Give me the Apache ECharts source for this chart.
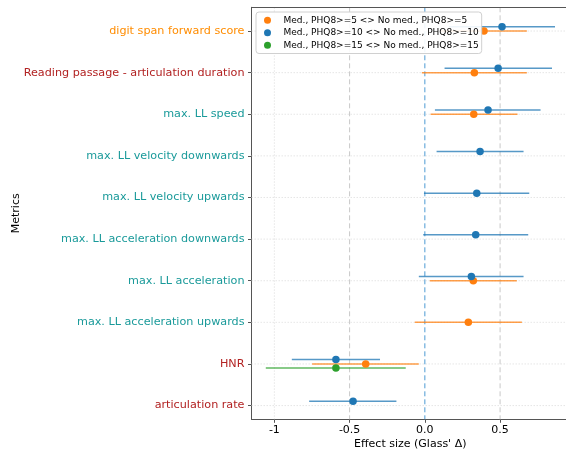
<!DOCTYPE html>
<html><head><meta charset="utf-8">
<script src="https://cdn.jsdelivr.net/npm/echarts@6/dist/echarts.min.js"></script>
<style>html,body{margin:0;padding:0;background:#fff}#c{width:566px;height:452px}</style>
</head><body><div id="c"></div>
<script>
// ---- data ----
const metrics = [
  'digit span forward score',
  'Reading passage - articulation duration',
  'max. LL speed',
  'max. LL velocity downwards',
  'max. LL velocity upwards',
  'max. LL acceleration downwards',
  'max. LL acceleration',
  'max. LL acceleration upwards',
  'HNR',
  'articulation rate'
];
const metricGroup = ['cog','speech','ll','ll','ll','ll','ll','ll','speech','speech'];
const groupNames = [
  'Med., PHQ8>=5 <> No med., PHQ8>=5',
  'Med., PHQ8>=10 <> No med., PHQ8>=10',
  'Med., PHQ8>=15 <> No med., PHQ8>=15'
];
const xTickValues = [-1, -0.5, 0, 0.5];
const xTickLabels = ['-1', '-0.5', '0.0', '0.5'];
const refLinesGrey = [-0.5, 0.5];
const refLineZero = [0];

// PHQ8>=5
const phq5Metric = [0, 1, 2, 6, 7, 8];
const phq5Est    = [0.393, 0.329, 0.325, 0.322, 0.289, -0.393];
const phq5Lo     = [0.108, -0.020, 0.038, 0.033, -0.067, -0.749];
const phq5Hi     = [0.678, 0.678, 0.616, 0.611, 0.645, -0.040];
// PHQ8>=10
const phq10Metric = [0, 1, 2, 3, 4, 5, 6, 8, 9];
const phq10Est    = [0.513, 0.487, 0.420, 0.367, 0.345, 0.338, 0.309, -0.591, -0.477];
const phq10Lo     = [0.160, 0.131, 0.067, 0.078, -0.006, -0.011, -0.040, -0.884, -0.769];
const phq10Hi     = [0.865, 0.845, 0.769, 0.656, 0.694, 0.687, 0.656, -0.298, -0.189];
// PHQ8>=15
const phq15Metric = [8];
const phq15Est    = [-0.591];
const phq15Lo     = [-1.057];
const phq15Hi     = [-0.127];

// ---- styling ----
const seriesColors = ['#ff7f0e', '#1f77b4', '#2ca02c'];
const offsets = [0, -0.104, 0.1];
const labelColors = {cog: '#ff8c00', speech: '#b22222', ll: '#1a9a9a'};
const FONT = 'DejaVu Sans';
const Y_MIN = -0.57, Y_MAX = 9.33;

const groupsData = [
  [phq5Metric, phq5Est, phq5Lo, phq5Hi],
  [phq10Metric, phq10Est, phq10Lo, phq10Hi],
  [phq15Metric, phq15Est, phq15Lo, phq15Hi]
];

function vLineSeries(values, style, z) {
  return {
    type: 'custom', silent: true, z: z, animation: false,
    encode: {x: 0, y: 1},
    data: values.map(v => [v, Y_MIN]),
    renderItem: function (params, api) {
      const a = api.coord([api.value(0), Y_MIN]);
      const b = api.coord([api.value(0), Y_MAX]);
      return {type: 'line', shape: {x1: a[0], y1: a[1], x2: b[0], y2: b[1]}, style: style};
    }
  };
}
function hLineSeries(values, style, z) {
  return {
    type: 'custom', silent: true, z: z, animation: false,
    encode: {x: 0, y: 1},
    data: values.map(v => [0, v]),
    renderItem: function (params, api) {
      const a = api.coord([-1.152, api.value(1)]);
      const b = api.coord([0.958, api.value(1)]);
      return {type: 'line', shape: {x1: a[0], y1: a[1], x2: b[0], y2: b[1]}, style: style};
    }
  };
}

const gridDot = {stroke: '#e0e0e0', lineDash: [1.5, 1.5], lineWidth: 0.8};
const series = [
  hLineSeries(metrics.map((m, i) => i), gridDot, 1),
  vLineSeries(xTickValues.filter(v => refLineZero.indexOf(v) < 0 && refLinesGrey.indexOf(v) < 0), gridDot, 1),
  vLineSeries(refLinesGrey, {stroke: '#c8c8c8', lineDash: [5, 3], lineWidth: 1}, 2),
  vLineSeries(refLineZero, {stroke: '#4d9bd3', lineDash: [5, 3], lineWidth: 1}, 2)
];

groupsData.forEach((g, gi) => {
  const [idx, est, lo, hi] = g;
  const data = idx.map((m, k) => [est[k], m + offsets[gi], lo[k], hi[k]]);
  series.push({
    name: groupNames[gi] + ' CI',
    type: 'custom', z: 10 + gi,
    renderItem: function (params, api) {
      const y = api.value(1);
      const a = api.coord([api.value(2), y]);
      const b = api.coord([api.value(3), y]);
      return {
        type: 'line',
        shape: {x1: a[0], y1: a[1], x2: b[0], y2: b[1]},
        style: {stroke: seriesColors[gi], lineWidth: 1.5, opacity: 0.75}
      };
    },
    encode: {x: [0, 2, 3], y: 1},
    data: data,
    animation: false
  });
  series.push({
    name: groupNames[gi],
    type: 'scatter', z: 20 + gi,
    symbol: 'circle', symbolSize: 7.5,
    itemStyle: {color: seriesColors[gi], opacity: 1},
    data: data.map(d => [d[0], d[1]]),
    animation: false
  });
});

const chart = echarts.init(document.getElementById('c'), null, {renderer: 'canvas'});
chart.setOption({
  backgroundColor: '#fff',
  animation: false,
  grid: {left: 251.5, right: -3, top: 7.3, bottom: 32.7, containLabel: false, outerBoundsMode: 'none', show: false},
  legend: {
    z: 50,
    data: groupNames.map(n => ({name: n, icon: 'circle'})),
    orient: 'vertical', left: 256, top: 12,
    itemWidth: 22, itemHeight: 7, itemGap: 2,
    padding: [3, 3, 3, 8],
    backgroundColor: 'rgba(255,255,255,0.9)',
    borderColor: '#d0d0d0', borderWidth: 1, borderRadius: 3,
    textStyle: {fontFamily: FONT, fontSize: 9, color: '#000', lineHeight: 10.5},
    selectedMode: false
  },
  xAxis: {
    type: 'value', min: -1.152, max: 0.958,
    name: "Effect size (Glass' Δ)", nameLocation: 'middle', nameGap: 19,
    nameMoveOverlap: false,
    nameTextStyle: {fontFamily: FONT, fontSize: 11, color: '#000'},
    axisLine: {show: true, onZero: false, lineStyle: {color: '#555', width: 1}},
    axisTick: {show: true, length: 3.5, customValues: xTickValues, lineStyle: {color: '#555'}},
    axisLabel: {
      customValues: xTickValues, margin: 5,
      fontFamily: FONT, fontSize: 11, color: '#000',
      formatter: v => xTickLabels[xTickValues.indexOf(Math.round(v * 100) / 100)] || ''
    },
    splitLine: {show: false}
  },
  yAxis: {
    type: 'value', min: Y_MIN, max: Y_MAX, inverse: true,
    name: 'Metrics', nameLocation: 'middle', nameGap: 230, nameRotate: 90,
    nameMoveOverlap: false,
    nameTextStyle: {fontFamily: FONT, fontSize: 11, color: '#000'},
    axisLine: {show: true, onZero: false, lineStyle: {color: '#555', width: 1}},
    axisTick: {show: true, length: 3.5, customValues: metrics.map((m, i) => i), lineStyle: {color: '#555'}},
    axisLabel: {
      customValues: metrics.map((m, i) => i), margin: 7,
      fontFamily: FONT, fontSize: 11.2,
      formatter: v => metrics[Math.round(v)] || '',
      color: (v) => labelColors[metricGroup[Math.round(v)]] || '#000'
    },
    splitLine: {show: false}
  },
  graphic: [{
    type: 'line', z: 10,
    shape: {x1: 251.5, y1: 7.5, x2: 566, y2: 7.5},
    style: {stroke: '#555', lineWidth: 1}
  }],
  series: series
});
</script>
</body></html>
